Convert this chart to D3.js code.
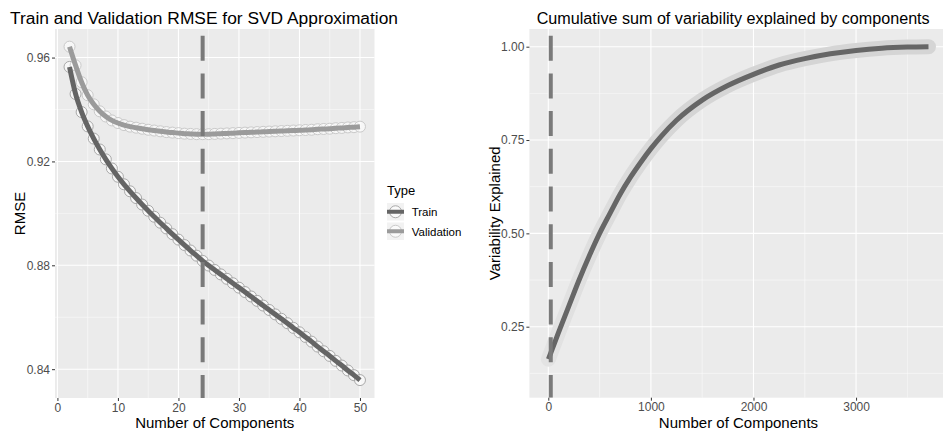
<!DOCTYPE html>
<html>
<head>
<meta charset="utf-8">
<script src="https://cdn.jsdelivr.net/npm/d3@7"></script>
<style>
  body { margin: 0; background: #fff; }
  svg { display: block; font-family: "Liberation Sans", Arial, sans-serif; }
</style>
</head>
<body>
<svg id="chart" width="943" height="435"></svg>
<script>
// ── data ──────────────────────────────────────────────────
// left panel: RMSE by number of SVD components
const components = [2,3,4,5,6,7,8,9,10,11,12,13,14,15,16,17,18,19,20,21,22,23,24,25,26,
  27,28,29,30,31,32,33,34,35,36,37,38,39,40,41,42,43,44,45,46,47,48,49,50];
const trainRmse = [0.9564,0.9460,0.9390,0.9335,0.9288,0.9246,0.9208,0.9173,0.9141,0.9112,
  0.9085,0.9059,0.9034,0.9010,0.8987,0.8964,0.8942,0.8920,0.8899,0.8878,0.8857,0.8837,0.8817,
  0.8799,0.8782,0.8765,0.8748,0.8731,0.8714,0.8697,0.8680,0.8663,0.8645,0.8628,0.8611,0.8594,
  0.8577,0.8559,0.8542,0.8524,0.8506,0.8487,0.8469,0.8451,0.8432,0.8414,0.8395,0.8377,0.8358];
const validRmse = [0.9642,0.9570,0.9505,0.9455,0.9420,0.9393,0.9373,0.9358,0.9348,0.9340,
  0.9334,0.9330,0.9326,0.9322,0.9319,0.9316,0.9313,0.9311,0.9309,0.9307,0.9306,0.9305,0.9305,
  0.9305,0.9306,0.9307,0.9308,0.9309,0.9310,0.9311,0.9312,0.9313,0.9314,0.9315,0.9316,0.9317,
  0.9318,0.9319,0.9320,0.9321,0.9322,0.9324,0.9325,0.9326,0.9328,0.9329,0.9331,0.9332,0.9334];
const bestK = 24;
const seriesNames = ["Train", "Validation"];

// right panel: cumulative variability explained
const cumComp = [1,100,200,300,400,500,600,700,800,900,1000,1100,1250,1500,1750,2000,
  2250,2500,2750,3000,3250,3500,3706];
const cumVar = [0.163,0.235,0.305,0.375,0.440,0.500,0.553,0.605,0.650,0.690,0.727,0.760,
  0.803,0.857,0.896,0.926,0.951,0.968,0.981,0.990,0.996,0.999,1.000];

// ticks
const rmseXTicks = [0,10,20,30,40,50];
const rmseXMinor = [5,15,25,35,45];
const rmseYTicks = [0.84,0.88,0.92,0.96];
const rmseYMinor = [0.86,0.90,0.94];
const cumXTicks = [0,1000,2000,3000];
const cumXMinor = [500,1500,2500,3500];
const cumYTicks = [0.25,0.50,0.75,1.00];
const cumYMinor = [0.125,0.375,0.625,0.875];

// ── styles ────────────────────────────────────────────────
const PANEL_BG = "#ebebeb";
const LINE_COLOR = { Train: "#656565", Validation: "#9b9b9b" };
const PT_STROKE  = { Train: "#a9a9a9", Validation: "#cacaca" };
const DASH = "#7a7a7a";

const svg = d3.select("#chart");
svg.append("rect").attr("width", 943).attr("height", 435).attr("fill", "#fff");

// panel background + grid + axes
function drawPanel(box, x, y, t) {
  const g = svg.append("g");
  g.append("rect")
    .attr("x", box.l).attr("y", box.t)
    .attr("width", box.r - box.l).attr("height", box.b - box.t)
    .attr("fill", PANEL_BG);

  // minor grid
  g.selectAll(".vminor").data(t.xMinor).join("line")
    .attr("x1", d => x(d)).attr("x2", d => x(d))
    .attr("y1", box.t).attr("y2", box.b)
    .attr("stroke", "#fafafa").attr("stroke-width", 0.6);
  g.selectAll(".hminor").data(t.yMinor).join("line")
    .attr("y1", d => y(d)).attr("y2", d => y(d))
    .attr("x1", box.l).attr("x2", box.r)
    .attr("stroke", "#fafafa").attr("stroke-width", 0.6);
  // major grid
  g.selectAll(".vmajor").data(t.xTicks).join("line")
    .attr("x1", d => x(d)).attr("x2", d => x(d))
    .attr("y1", box.t).attr("y2", box.b)
    .attr("stroke", "#fff").attr("stroke-width", 1.1);
  g.selectAll(".hmajor").data(t.yTicks).join("line")
    .attr("y1", d => y(d)).attr("y2", d => y(d))
    .attr("x1", box.l).attr("x2", box.r)
    .attr("stroke", "#fff").attr("stroke-width", 1.1);

  // axes
  const ax = svg.append("g").attr("transform", `translate(0,${box.b})`)
    .call(d3.axisBottom(x).tickValues(t.xTicks).tickSize(3).tickPadding(2).tickFormat(d3.format("d")));
  const ay = svg.append("g").attr("transform", `translate(${box.l},0)`)
    .call(d3.axisLeft(y).tickValues(t.yTicks).tickSize(3).tickPadding(2).tickFormat(d3.format(".2f")));
  [ax, ay].forEach(a => {
    a.select(".domain").remove();
    a.selectAll(".tick line").attr("stroke", "#333").attr("stroke-width", 1);
    a.selectAll(".tick text").attr("fill", "#4d4d4d").attr("font-size", "12px")
      .attr("font-family", "Liberation Sans, Arial, sans-serif");
  });

  // clip for marks
  const id = "clip" + Math.round(box.l);
  svg.append("clipPath").attr("id", id).append("rect")
    .attr("x", box.l).attr("y", box.t)
    .attr("width", box.r - box.l).attr("height", box.b - box.t);
  return svg.append("g").attr("clip-path", `url(#${id})`);
}

function vDash(g, box, xv) {
  g.append("line")
    .attr("x1", xv).attr("x2", xv).attr("y1", box.t).attr("y2", box.b)
    .attr("stroke", DASH).attr("stroke-width", 4)
    .attr("stroke-dasharray", "25,12.7").attr("stroke-dashoffset", 31);
}

// ── left panel ────────────────────────────────────────────
const L = { l: 55, r: 374.5, t: 29, b: 398 };
const xL = d3.scaleLinear().domain([-0.4, 52.4]).range([L.l, L.r]);
const yL = d3.scaleLinear().domain([0.8289, 0.9710]).range([L.b, L.t]);
const gL = drawPanel(L, xL, yL,
  { xTicks: rmseXTicks, xMinor: rmseXMinor, yTicks: rmseYTicks, yMinor: rmseYMinor });

const series = [
  { name: "Train", values: trainRmse },
  { name: "Validation", values: validRmse }
];
const lineL = d3.line().x((d, i) => xL(components[i])).y(d => yL(d)).curve(d3.curveMonotoneX);

series.forEach(s => {
  gL.append("g").selectAll("circle").data(s.values).join("circle")
    .attr("cx", (d, i) => xL(components[i])).attr("cy", d => yL(d)).attr("r", 5.5)
    .attr("fill", "#fff").attr("fill-opacity", 0.6)
    .attr("stroke", PT_STROKE[s.name]).attr("stroke-width", 1);
});
series.forEach(s => {
  gL.append("path").datum(s.values).attr("d", lineL)
    .attr("fill", "none").attr("stroke", LINE_COLOR[s.name]).attr("stroke-width", 5);
});
vDash(gL, L, xL(bestK));

// ── right panel ───────────────────────────────────────────
const R = { l: 529.4, r: 947.5, t: 29, b: 397.7 };
const xR = d3.scaleLinear().domain([-184.25, 3891.25]).range([R.l, R.r]);
const yR = d3.scaleLinear().domain([0.0598, 1.0474]).range([R.b, R.t]);
const gR = drawPanel(R, xR, yR,
  { xTicks: cumXTicks, xMinor: cumXMinor, yTicks: cumYTicks, yMinor: cumYMinor });

// halo fades out toward the steep start of the curve
const grad = svg.append("defs").append("linearGradient").attr("id", "halo")
  .attr("gradientUnits", "userSpaceOnUse")
  .attr("x1", xR(0)).attr("x2", xR(1300)).attr("y1", 0).attr("y2", 0);
grad.append("stop").attr("offset", 0).attr("stop-color", "#e3e3e3");
grad.append("stop").attr("offset", 1).attr("stop-color", "#d5d5d5");

const lineR = d3.line().x((d, i) => xR(cumComp[i])).y(d => yR(d)).curve(d3.curveMonotoneX);
gR.append("path").datum(cumVar).attr("d", lineR)
  .attr("fill", "none").attr("stroke", "url(#halo)").attr("stroke-width", 15)
  .attr("stroke-linecap", "round").attr("stroke-linejoin", "round");
gR.append("path").datum(cumVar).attr("d", lineR)
  .attr("fill", "none").attr("stroke", "#666").attr("stroke-width", 5);
vDash(gR, R, xR(bestK));

// ── titles ────────────────────────────────────────────────
svg.append("text").attr("x", 10).attr("y", 24).attr("font-size", "16px").attr("fill", "#000")
  .attr("textLength", 388).attr("lengthAdjust", "spacingAndGlyphs")
  .text("Train and Validation RMSE for SVD Approximation");
svg.append("text").attr("x", 536.7).attr("y", 24).attr("font-size", "16px").attr("fill", "#000")
  .attr("textLength", 393).attr("lengthAdjust", "spacingAndGlyphs")
  .text("Cumulative sum of variability explained by components");

svg.append("text").attr("x", (L.l + L.r) / 2).attr("y", 428).attr("text-anchor", "middle")
  .attr("font-size", "15px").text("Number of Components");
svg.append("text").attr("x", (R.l + R.r) / 2).attr("y", 428).attr("text-anchor", "middle")
  .attr("font-size", "15px").text("Number of Components");
svg.append("text").attr("transform", `translate(25,${(L.t + L.b) / 2}) rotate(-90)`)
  .attr("text-anchor", "middle").attr("font-size", "15px").text("RMSE");
svg.append("text").attr("transform", `translate(499.5,${(R.t + R.b) / 2}) rotate(-90)`)
  .attr("text-anchor", "middle").attr("font-size", "15px").text("Variability Explained");

// ── legend ────────────────────────────────────────────────
const lg = svg.append("g");
lg.append("text").attr("x", 387).attr("y", 195).attr("font-size", "13px").text("Type");
seriesNames.forEach((name, i) => {
  const ky = 203 + i * 19.5;
  lg.append("rect").attr("x", 387).attr("y", ky).attr("width", 17).attr("height", 17.5)
    .attr("fill", "#f2f2f2");
  lg.append("circle").attr("cx", 395.5).attr("cy", ky + 8.75).attr("r", 6)
    .attr("fill", "#fff").attr("fill-opacity", 0.6)
    .attr("stroke", PT_STROKE[name]).attr("stroke-width", 1);
  lg.append("line").attr("x1", 387).attr("x2", 404).attr("y1", ky + 8.75).attr("y2", ky + 8.75)
    .attr("stroke", LINE_COLOR[name]).attr("stroke-width", 4);
  lg.append("text").attr("x", 411.7).attr("y", ky + 13).attr("font-size", "11.5px")
    .attr("fill", "#000").text(name);
});
</script>
</body>
</html>
